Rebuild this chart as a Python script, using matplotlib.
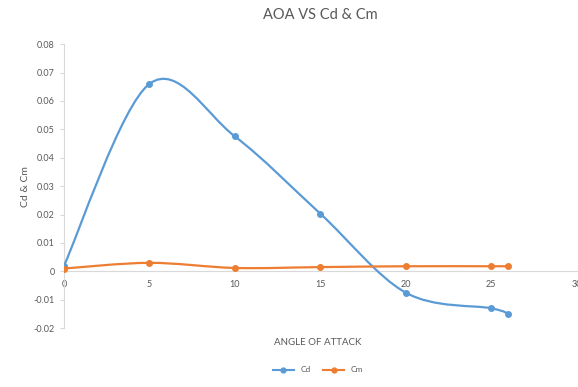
import numpy as np
import matplotlib
matplotlib.use("Agg")
import matplotlib.pyplot as plt
from matplotlib.path import Path
from matplotlib.patches import PathPatch
from matplotlib.lines import Line2D

plt.rcParams['font.family'] = ['Lato', 'DejaVu Sans']

# data
angle = [0, 5, 10, 15, 20, 25, 26]
cd = [0.002, 0.066, 0.0475, 0.0203, -0.0075, -0.013, -0.015]
cm = [0.0010, 0.0030, 0.0012, 0.0015, 0.0018, 0.0018, 0.0018]

BLUE = "#5B9BD5"
ORANGE = "#ED7D31"
GREY = "#595959"


def smooth_path(xs, ys):
    # Excel-like smoothed line: cubic Bezier through every point
    pts = np.column_stack([xs, ys]).astype(float)
    n = len(pts)
    verts = [pts[0]]
    codes = [Path.MOVETO]
    for i in range(n - 1):
        p0 = pts[i - 1] if i > 0 else pts[i]
        p1 = pts[i]
        p2 = pts[i + 1]
        p3 = pts[i + 2] if i + 2 < n else pts[i + 1]
        c1 = p1 + (p2 - p0) / 6.0
        c2 = p2 - (p3 - p1) / 6.0
        verts += [c1, c2, p2]
        codes += [Path.CURVE4] * 3
    return Path(verts, codes)


fig = plt.figure(figsize=(5.78, 3.87), dpi=100)
ax = fig.add_axes([0.1107, 0.152, 0.887, 0.734])

for ys, col in [(cd, BLUE), (cm, ORANGE)]:
    ax.add_patch(PathPatch(smooth_path(angle, ys), facecolor="none",
                           edgecolor=col, linewidth=1.6, zorder=3))
    ax.plot(angle, ys, linestyle="none", marker="o", markersize=4,
            color=col, zorder=4)

ax.set_xlim(0, 30)
ax.set_ylim(-0.02, 0.08)
ax.set_xticks([0, 5, 10, 15, 20, 25, 30])
ax.set_yticks(np.arange(-0.02, 0.081, 0.01))
ax.set_yticklabels(["-0.02", "-0.01", "0", "0.01", "0.02", "0.03", "0.04",
                    "0.05", "0.06", "0.07", "0.08"])

for s in ["top", "right"]:
    ax.spines[s].set_visible(False)
ax.spines["bottom"].set_position(("data", 0))
ax.spines["bottom"].set_color("#D9D9D9")
ax.spines["left"].set_color("#D9D9D9")
ax.tick_params(axis="both", colors="#D9D9D9", labelcolor=GREY, labelsize=6.5,
               length=3, width=0.8)
ax.tick_params(axis="x", length=0, pad=6)

ax.set_title("AOA VS Cd & Cm", fontsize=10.5, color=GREY, pad=18)
ax.set_ylabel("Cd & Cm", fontsize=7.5, color=GREY, labelpad=3)
fig.text(0.55, 0.115, "ANGLE OF ATTACK", ha="center", va="center",
         fontsize=7, color=GREY)

handles = [Line2D([], [], color=BLUE, marker="o", markersize=3.5, linewidth=1.5),
           Line2D([], [], color=ORANGE, marker="o", markersize=3.5, linewidth=1.5)]
fig.legend(handles, ["Cd", "Cm"], loc="center", bbox_to_anchor=(0.55, 0.044),
           ncol=2, frameon=False, fontsize=6, labelcolor=GREY,
           handlelength=2.5, columnspacing=1.5)

fig.savefig("out.png", dpi=100)
